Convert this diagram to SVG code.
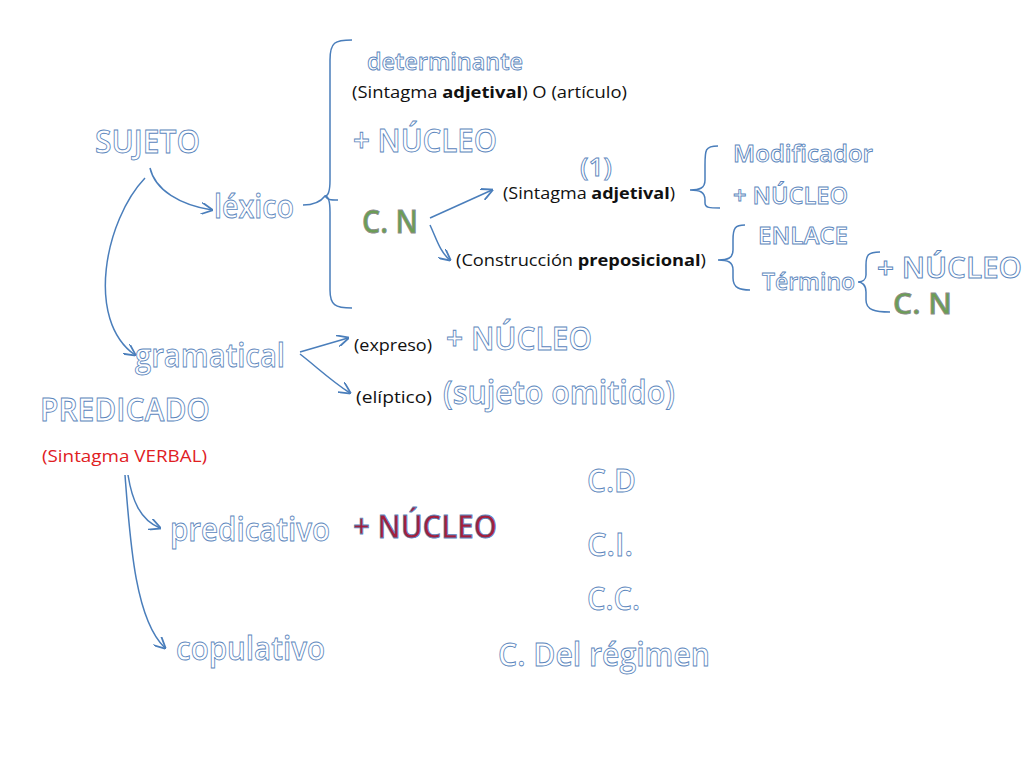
<svg xmlns="http://www.w3.org/2000/svg" width="1024" height="768" viewBox="0 0 1024 768">
<defs>
<style>
.w{font-family:"Open Sans","Liberation Sans",sans-serif;font-weight:600;fill:#fff;stroke:#5b86bd;stroke-width:0.9}
.c{fill:#6b9e55;stroke:#8a8a8a;stroke-width:0.8}
.r{fill:#a3203c;stroke:#5b86bd;stroke-width:0.8}
.s{font-family:"Open Sans","Liberation Sans",sans-serif;font-size:16px;fill:#111}
.ln{fill:none;stroke:#4a7ebb;stroke-width:1.5}
</style>
<marker id="a" viewBox="0 0 10 10" refX="9" refY="5" markerWidth="8" markerHeight="8" orient="auto"><path d="M0,0 L10,5 L0,10" fill="none" stroke="#4a7ebb" stroke-width="1.5"/></marker>
</defs>
<rect width="1024" height="768" fill="#fff"/>
<g id="connectors" class="ln">
<path d="M150,168 C155,190 180,205 212,210" marker-end="url(#a)"/>
<path d="M145,178 C105,220 85,320 135,355" marker-end="url(#a)"/>
<path d="M303,205 C315,205 322,200 325,196 C328,200 330,200 338,200"/>
<path d="M352,40 C335,40 330,42 330,60 L330,180 C330,192 328,196 325,196 C328,196 330,200 330,212 L330,290 C330,305 335,308 352,308"/>
<path d="M430,218 L492,190" marker-end="url(#a)"/>
<path d="M430,225 C437,240 440,252 450,260" marker-end="url(#a)"/>
<path d="M718,146 C705,146 705,150 705,165 L705,180 C705,188 700,190 690,190 C700,190 705,192 705,200 L705,203 C705,208 710,208 720,208"/>
<path d="M745,225 C735,225 733,228 733,240 L733,250 C733,258 728,260 718,260 C728,260 733,262 733,270 L733,278 C733,288 740,290 750,290"/>
<path d="M880,252 C868,252 866,255 866,265 L866,275 C866,280 862,282 858,282 C862,282 866,285 866,292 L866,300 C866,310 875,312 890,312"/>
<path d="M300,352 L348,338" marker-end="url(#a)"/>
<path d="M300,354 C318,368 330,380 350,393" marker-end="url(#a)"/>
<path d="M128,475 C132,500 140,520 160,528" marker-end="url(#a)"/>
<path d="M125,475 C130,540 135,620 165,648" marker-end="url(#a)"/>
</g>
<g id="sujeto"><text class="w" x="95" y="153" font-size="33" textLength="105" lengthAdjust="spacingAndGlyphs">SUJETO</text></g>
<g id="lexico"><text class="w" x="214" y="218" font-size="33" textLength="80" lengthAdjust="spacingAndGlyphs">léxico</text></g>
<g id="determinante"><text class="w" x="367" y="70" font-size="24" textLength="156" lengthAdjust="spacingAndGlyphs">determinante</text><text class="s" x="352" y="98" textLength="275" lengthAdjust="spacingAndGlyphs">(Sintagma <tspan font-weight="bold">adjetival</tspan>) O (artículo)</text></g>
<g id="nucleo1"><text class="w" x="353" y="152" font-size="33" textLength="144" lengthAdjust="spacingAndGlyphs">+ NÚCLEO</text></g>
<g id="cn1"><text class="w c" x="362" y="233" font-size="33" textLength="56" lengthAdjust="spacingAndGlyphs">C. N</text></g>
<g id="uno"><text class="w" x="580" y="176" font-size="26" textLength="32" lengthAdjust="spacingAndGlyphs">(1)</text></g>
<g id="sadj"><text class="s" x="503" y="199" textLength="172" lengthAdjust="spacingAndGlyphs">(Sintagma <tspan font-weight="bold">adjetival</tspan>)</text></g>
<g id="modificador"><text class="w" x="733" y="162" font-size="24" textLength="140" lengthAdjust="spacingAndGlyphs">Modificador</text></g>
<g id="nucleo2"><text class="w" x="733" y="204" font-size="24" textLength="115" lengthAdjust="spacingAndGlyphs">+ NÚCLEO</text></g>
<g id="cprep"><text class="s" x="456" y="266" textLength="250" lengthAdjust="spacingAndGlyphs">(Construcción <tspan font-weight="bold">preposicional</tspan>)</text></g>
<g id="enlace"><text class="w" x="758" y="244" font-size="24" textLength="90" lengthAdjust="spacingAndGlyphs">ENLACE</text></g>
<g id="termino"><text class="w" x="762" y="290" font-size="24" textLength="93" lengthAdjust="spacingAndGlyphs">Término</text></g>
<g id="nucleo3"><text class="w" x="877" y="278" font-size="28" textLength="145" lengthAdjust="spacingAndGlyphs">+ NÚCLEO</text></g>
<g id="cn2"><text class="w c" x="893" y="314" font-size="28" textLength="59" lengthAdjust="spacingAndGlyphs">C. N</text></g>
<g id="gramatical"><text class="w" x="135" y="367" font-size="33" textLength="150" lengthAdjust="spacingAndGlyphs">gramatical</text></g>
<g id="expreso"><text class="s" x="354" y="351" textLength="78" lengthAdjust="spacingAndGlyphs">(expreso)</text><text class="w" x="446" y="350" font-size="33" textLength="146" lengthAdjust="spacingAndGlyphs">+ NÚCLEO</text></g>
<g id="eliptico"><text class="s" x="356" y="403" textLength="76" lengthAdjust="spacingAndGlyphs">(elíptico)</text><text class="w" x="443" y="404" font-size="33" textLength="232" lengthAdjust="spacingAndGlyphs">(sujeto omitido)</text></g>
<g id="predicado"><text class="w" x="40" y="421" font-size="33" textLength="170" lengthAdjust="spacingAndGlyphs">PREDICADO</text><text class="s" x="42" y="462" style="fill:#e0201f" textLength="165" lengthAdjust="spacingAndGlyphs">(Sintagma VERBAL)</text></g>
<g id="predicativo"><text class="w" x="170" y="541" font-size="33" textLength="160" lengthAdjust="spacingAndGlyphs">predicativo</text></g>
<g id="nucleo4"><text class="w r" x="353" y="538" font-size="33" textLength="144" lengthAdjust="spacingAndGlyphs">+ NÚCLEO</text></g>
<g id="cd"><text class="w" x="587" y="492" font-size="33" textLength="49" lengthAdjust="spacingAndGlyphs">C.D</text></g>
<g id="ci"><text class="w" x="587" y="556" font-size="33" textLength="46" lengthAdjust="spacingAndGlyphs">C.I.</text></g>
<g id="cc"><text class="w" x="587" y="610" font-size="33" textLength="53" lengthAdjust="spacingAndGlyphs">C.C.</text></g>
<g id="copulativo"><text class="w" x="176" y="660" font-size="33" textLength="149" lengthAdjust="spacingAndGlyphs">copulativo</text></g>
<g id="cregimen"><text class="w" x="498" y="666" font-size="33" textLength="212" lengthAdjust="spacingAndGlyphs">C. Del régimen</text></g>
</svg>
